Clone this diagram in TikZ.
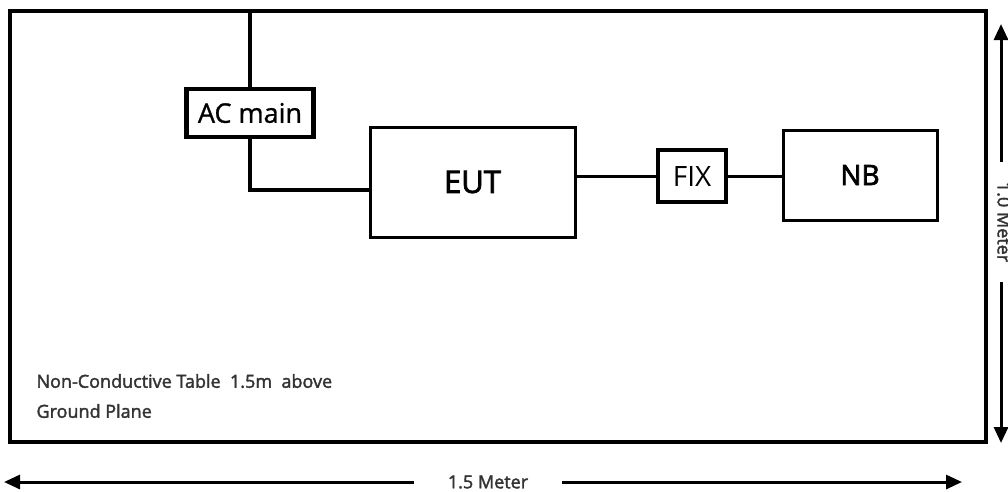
\documentclass[tikz,border=0pt]{standalone}
\usepackage{fontspec}
\setmainfont{Open Sans}
\usetikzlibrary{arrows.meta, positioning}

\begin{document}
\begin{tikzpicture}[x=1pt, y=-1pt,
box/.style={rectangle, draw=black, line width=3pt, inner sep=0pt,
  font=\fontsize{28}{30}\selectfont\addfontfeature{FakeBold=2.5}},
%
thickbox/.style={box, line width=4.5pt},
%
wire/.style={line width=3pt},
%
thickwire/.style={line width=4.5pt},
%
dim/.style={line width=3pt, -{Triangle[length=16pt, width=14pt]}},
%
note/.style={font=\fontsize{18}{30}\selectfont\addfontfeature{FakeBold=2},
  text=black!80}]

\useasboundingbox (0,0) rectangle (1008,491);

%%%%%%%%%%%%%%%%%%%%%%%%%%%%%%
\node [box, line width=3.5pt, minimum width=976pt, minimum height=431pt]
  (table) at (498,226.5) {};
\node [thickbox, minimum width=127pt, minimum height=48pt,
  font=\fontsize{27}{30}\selectfont\addfontfeature{FakeBold=1}] (ACmain)
  at (250,113) {AC main};
\node [box, minimum width=205pt, minimum height=110pt,
  font=\fontsize{31}{34}\selectfont\addfontfeature{FakeBold=2.5}] (EUT)
  at (472.5,182) {EUT};
\node [box, line width=4pt, minimum width=68pt, minimum height=52pt,
  font=\fontsize{28}{30}\selectfont] (FIX)
  at (692,176) {FIX};
\node [box, minimum width=154pt, minimum height=90pt] (NB)
  at (860,175) {NB};
%%%%%%%%%%%%%%%%%%%%%%%%%%%%%%
\node [note, anchor=west, align=left] (tableNote) at (33,396)
  {Non-Conductive Table\ \ 1.5m\ \ above\\Ground Plane};

%%%%%%%%%%%%%%%%%%%%%%%%%%%%%%
\draw [thickwire] (ACmain.north) -- (ACmain.north |- table.north);
\draw [thickwire] (ACmain.south) |- ([yshift=-8pt]EUT.west);
\draw [wire] (EUT.east |- FIX.west) -- (FIX.west);
\draw [wire] (FIX.east) -- (FIX.east -| NB.west);

%%%%%%%%%%%%%%%%%%%%%%%%%%%%%%
\coordinate (widthL) at (4,482);
\coordinate (widthR) at (962,482);
\node [note, inner xsep=34pt] (widthLabel) at (488,482) {1.5 Meter};
\draw [dim] (widthLabel.west) -- (widthL);
\draw [dim] (widthLabel.east) -- (widthR);

\coordinate (heightT) at (1001,24);
\coordinate (heightB) at (1001,443);
\node [note, rotate=-90, inner xsep=20pt] (heightLabel) at (1004,222)
  {1.0 Meter};
\draw [dim] (heightLabel.west -| heightT) -- (heightT);
\draw [dim] (heightLabel.east -| heightB) -- (heightB);

\end{tikzpicture}
\end{document}
